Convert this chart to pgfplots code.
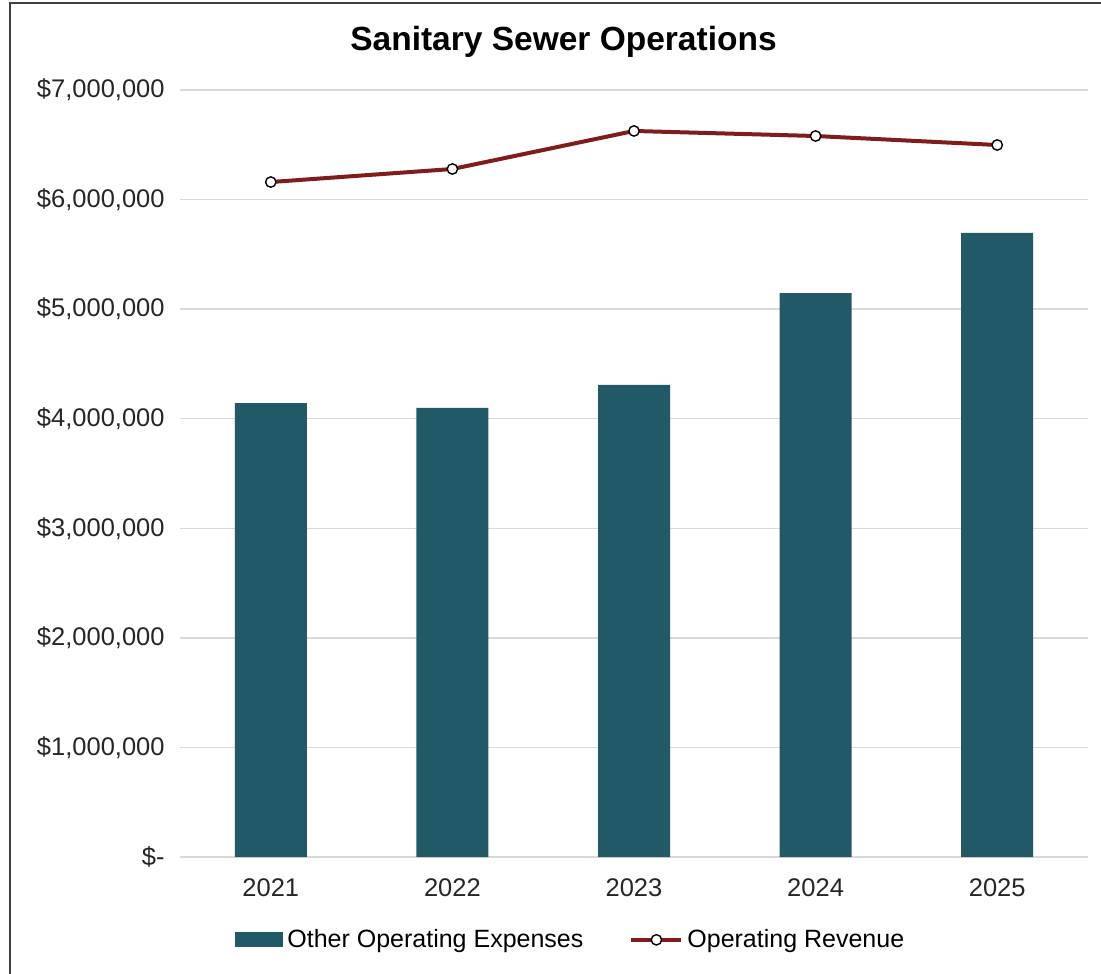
\documentclass[border=0pt]{standalone}
\usepackage{fontspec}
\setmainfont{Liberation Sans}
\usepackage{pgfplots}
\pgfplotsset{compat=1.18}
\definecolor{barc}{HTML}{225966}
\definecolor{linec}{HTML}{7F1D1D}
\definecolor{gridc}{HTML}{D9D9D9}
\definecolor{framec}{HTML}{404040}
\begin{document}
\begin{tikzpicture}
\useasboundingbox (0,0) rectangle (550.5pt,486.5pt);
\draw[line width=1pt, color=framec] (5pt,-2pt) -- (5pt,485pt) -- (552pt,485pt);
\node[font=\fontsize{16.75}{20}\selectfont\bfseries] at (281.75pt,465.5pt) {Sanitary Sewer Operations};
\begin{axis}[
  at={(90pt,58pt)}, anchor=south west,
  scale only axis, width=454pt, height=383.5pt,
  xmin=-0.5, xmax=4.5, ymin=0, ymax=7000000,
  scaled y ticks=false,
  axis line style={draw=none},
  major tick length=0pt,
  xtick={0,1,2,3,4},
  xticklabels={2021,2022,2023,2024,2025},
  ytick={0,1000000,2000000,3000000,4000000,5000000,6000000,7000000},
  yticklabels={\$-,{\$1,000,000},{\$2,000,000},{\$3,000,000},{\$4,000,000},{\$5,000,000},{\$6,000,000},{\$7,000,000}},
  ymajorgrids, grid style={gridc, line width=0.75pt},
  ticklabel style={font=\fontsize{12.75}{15}\selectfont, text=black!85},
  yticklabel style={anchor=east, inner sep=0pt, xshift=-7.5pt},
  xticklabel style={anchor=north, inner sep=0pt, yshift=-10.5pt},
  legend columns=2,
  legend style={at={(0.0606,-0.108)}, anchor=west, draw=none, fill=none,
    font=\fontsize{12.5}{15}\selectfont, inner sep=0pt,
    /tikz/every even column/.append style={column sep=21pt}},
  legend cell align=left,
]
\addplot[ybar, bar width=36pt, fill=barc, draw=none,
  legend image code/.code={\fill[barc] (0pt,-3.75pt) rectangle (24pt,3.75pt);}]
  coordinates {(0,4143000) (1,4098000) (2,4308000) (3,5147000) (4,5695000)};
\addlegendentry{Other Operating Expenses}
\addplot[linec, line width=2pt, mark=*, mark size=2.6pt,
  mark options={fill=white, draw=black, line width=0.7pt},
  legend image code/.code={\draw[linec, line width=2pt] (0pt,0pt) -- (25pt,0pt);
    \draw[fill=white, draw=black, line width=0.7pt] (12.5pt,0pt) circle (2.6pt);}]
  coordinates {(0,6160000) (1,6279000) (2,6626000) (3,6580000) (4,6498000)};
\addlegendentry{Operating Revenue}
\end{axis}
\end{tikzpicture}
\end{document}
